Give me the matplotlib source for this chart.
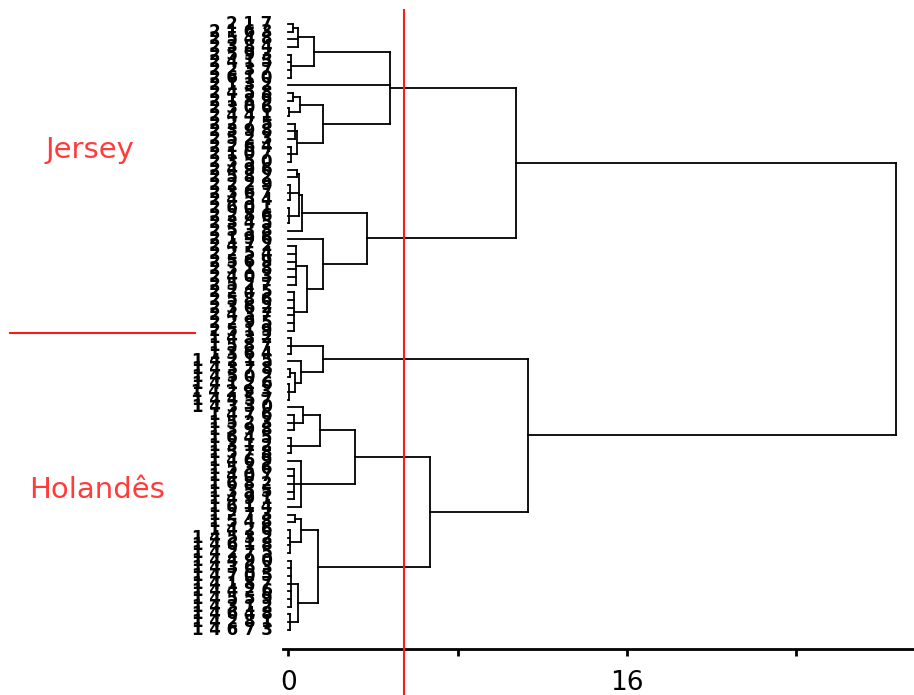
import numpy as np
import matplotlib.pyplot as plt
from matplotlib.lines import Line2D

# leaf labels, top to bottom
jersey_ids = ["217", "2163", "2548", "2384", "2593", "2415", "2237", "2610", "2132", "2458",
              "2189", "2306", "2441", "2275", "2398", "2523", "2264", "2107", "2350", "2496",
              "2582", "2229", "2367", "2454", "2601", "2286", "2345", "2538", "2196", "2472",
              "2254", "2569", "2318", "2403", "2527", "2245", "2586", "2362", "2437", "2295", "2519"]
holandes_ids = ["1432", "1587", "1364",
                "14215", "14378", "14502", "14126", "14293", "14457", "14330",
                "1476", "1523", "1398", "1645", "1312", "1578", "1469", "1536",
                "1407", "1682", "1355", "1491", "1614", "1273", "1548", "1426",
                "14532", "14618", "14275", "14490", "14363", "14705", "14187",
                "14426", "14559", "14312", "14648", "14281", "14673"]
leaf_labels = jersey_ids + holandes_ids

# clusters: first leaf, last leaf (inclusive) and fusion distance
node_start = [0, 0, 4, 0, 9, 11, 9, 13, 16, 13, 9, 0,
              19, 21, 24, 19, 19, 29, 35, 29, 28, 19, 0,
              41, 45, 47, 45, 44, 41,
              51, 50, 54, 50, 58, 57, 50,
              64, 66, 64, 70, 77, 70, 64, 50, 41, 0]
node_end = [1, 3, 7, 7, 10, 12, 12, 15, 18, 18, 18, 18,
            20, 23, 26, 26, 27, 34, 40, 40, 40, 40, 40,
            43, 46, 49, 49, 49, 49,
            53, 53, 56, 56, 62, 63, 63,
            65, 69, 69, 76, 79, 79, 79, 79, 79, 79]
node_height = [0.2, 0.45, 0.12, 1.2, 0.2, 0.05, 0.57, 0.3, 0.15, 0.4, 1.65, 4.8,
               0.4, 0.1, 0.05, 0.5, 0.66, 0.35, 0.25, 0.9, 1.65, 3.7, 10.75,
               0.15, 0.1, 0.05, 0.3, 0.6, 1.65,
               0.25, 0.7, 0.15, 1.5, 0.25, 0.6, 3.16,
               0.3, 0.1, 0.6, 0.15, 0.1, 0.45, 1.4, 6.7, 11.3, 28.7]

cut_height = 5.47

fig = plt.figure(figsize=(9.14, 6.95), dpi=100)
ax = fig.add_axes([283 / 914, 1 - 649 / 695, 1 - 283 / 914, 649 / 695])

# build the tree from the ranges, smallest clusters first
nodes = sorted(zip(node_start, node_end, node_height), key=lambda n: n[1] - n[0])
pos = {}
for s, e, h in nodes:
    inner = [(a, b) for (a, b) in pos if s <= a and b <= e and (a, b) != (s, e)]
    # keep only the outermost sub-clusters
    top = [c for c in inner if not any(o != c and o[0] <= c[0] and c[1] <= o[1] for o in inner)]
    children = []
    covered = set()
    for a, b in top:
        children.append((a, pos[(a, b)][0], pos[(a, b)][1]))
        covered.update(range(a, b + 1))
    for i in range(s, e + 1):
        if i not in covered:
            children.append((i, float(i), 0.0))
    children.sort()
    ys = [c[1] for c in children]
    for _, cy, cx in children:
        ax.plot([cx, h], [cy, cy], color='black', lw=1.3, solid_capstyle='projecting')
    ax.plot([h, h], [min(ys), max(ys)], color='black', lw=1.3, solid_capstyle='projecting')
    pos[(s, e)] = ((min(ys) + max(ys)) / 2, h)

for i, lab in enumerate(leaf_labels):
    ax.text(-0.75, i, " ".join(lab), ha='right', va='center', fontsize=12,
            fontweight='bold', color='black', clip_on=False)

ax.set_xlim(-0.25, 29.55)
ax.set_ylim(81.5, -3.13)

for side in ['top', 'right', 'left']:
    ax.spines[side].set_visible(False)
ax.spines['bottom'].set_linewidth(2)
ax.set_yticks([])
ax.set_xticks([0, 8, 16, 24])
ax.set_xticklabels(["0", "", "16", ""], fontsize=19, family=['Liberation Sans Narrow', 'DejaVu Sans'])
ax.tick_params(axis='x', length=5, width=2, pad=10)

# cut line and group labels
xcut = ax.transData.transform((cut_height, 0))[0] / fig.bbox.width
fig.add_artist(Line2D([xcut, xcut], [0, 1 - 10 / 695], color='#ff1a1a', lw=1.5))
fig.add_artist(Line2D([10 / 914, 195 / 914], [1 - 333 / 695, 1 - 333 / 695], color='#ff1a1a', lw=1.5))
fig.text(90 / 914, 1 - 150 / 695, "Jersey", color='#ff3b3b', fontsize=21, ha='center', va='center')
fig.text(97 / 914, 1 - 490 / 695, "Holandês", color='#ff3b3b', fontsize=21, ha='center', va='center')

plt.savefig("out.png", dpi=100)
